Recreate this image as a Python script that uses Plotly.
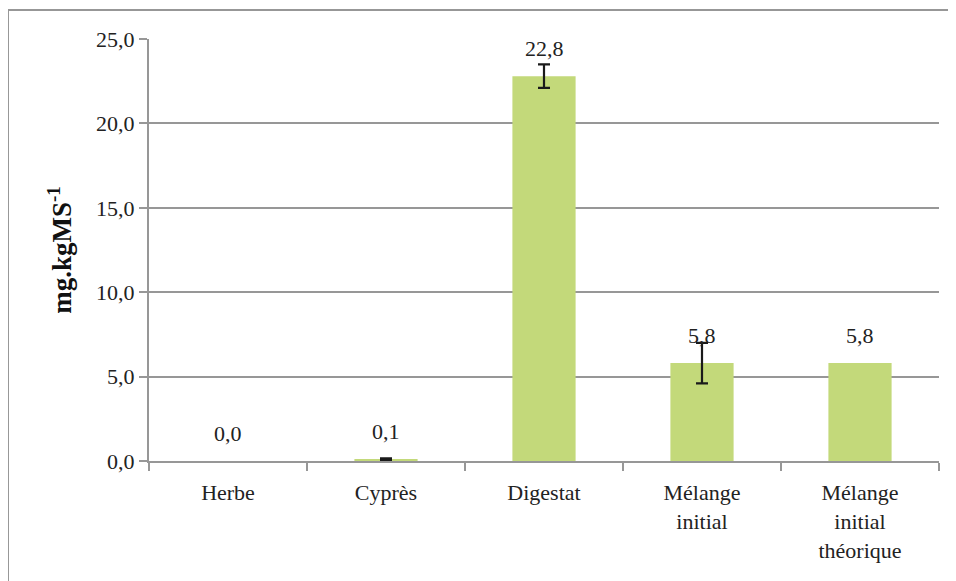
import plotly.graph_objects as go

categories = ["Herbe", "Cyprès", "Digestat", "Mélange<br>initial", "Mélange<br>initial<br>théorique"]
values = [0.0, 0.1, 22.8, 5.8, 5.8]
errors = [0.0, 0.05, 0.7, 1.2, 0.0]
has_error = [False, True, True, True, False]
labels = ["0,0", "0,1", "22,8", "5,8", "5,8"]
y_ticks = [0, 5, 10, 15, 20, 25]
y_ticktext = ["0,0", "5,0", "10,0", "15,0", "20,0", "25,0"]

FONT = "Times New Roman, Liberation Serif, serif"
GRID = "#979797"
TXT = "#222222"
BAR = "#C3D97A"

idx_e = [i for i, h in enumerate(has_error) if h]
idx_n = [i for i, h in enumerate(has_error) if not h]

fig = go.Figure()
fig.add_trace(go.Bar(
    x=[categories[i] for i in idx_e], y=[values[i] for i in idx_e],
    marker=dict(color=BAR, line=dict(width=0)), width=0.4,
    error_y=dict(type="data", array=[errors[i] for i in idx_e], visible=True,
                 color="#1a1a1a", thickness=2.2, width=6),
    hoverinfo="skip",
))
fig.add_trace(go.Bar(
    x=[categories[i] for i in idx_n], y=[values[i] for i in idx_n],
    marker=dict(color=BAR, line=dict(width=0)), width=0.4,
    hoverinfo="skip",
))

for c, v, t in zip(categories, values, labels):
    fig.add_annotation(x=c, y=v, text=t, showarrow=False, yanchor="bottom", yshift=13,
                       font=dict(family=FONT, size=22, color=TXT))

# y-axis title
fig.add_annotation(xref="paper", yref="paper", x=-0.113, y=0.5, text="<b>mg.kgMS<sup>-1</sup></b>",
                   textangle=-90, showarrow=False, xanchor="center", yanchor="middle",
                   font=dict(family=FONT, size=27, color="#111111"))

# outer frame
fig.add_shape(type="line", xref="paper", yref="paper", x0=-0.1785, x1=1.05, y0=1.0687, y1=1.0687,
              line=dict(color=GRID, width=2))
fig.add_shape(type="line", xref="paper", yref="paper", x0=-0.1785, x1=-0.1785, y0=1.0687, y1=-0.3,
              line=dict(color=GRID, width=2))

fig.update_layout(
    width=948, height=573,
    margin=dict(l=141, r=17, t=31, b=120),
    paper_bgcolor="white", plot_bgcolor="white",
    showlegend=False, barmode="overlay",
    font=dict(family=FONT, size=22, color=TXT),
)
fig.update_xaxes(
    type="category", categoryorder="array", categoryarray=categories,
    tickson="boundaries", ticks="outside", ticklen=8, tickcolor=GRID, tickwidth=2,
    ticklabelstandoff=11,
    showline=True, linecolor=GRID, linewidth=2, showgrid=False,
    tickfont=dict(family=FONT, size=22, color=TXT),
)
fig.update_yaxes(
    range=[0, 25], tickvals=y_ticks, ticktext=y_ticktext,
    ticks="outside", ticklen=8, tickcolor=GRID, tickwidth=2,
    showline=True, linecolor=GRID, linewidth=2,
    showgrid=True, gridcolor=GRID, gridwidth=2, zeroline=False,
    tickfont=dict(family=FONT, size=22, color=TXT),
)

fig.write_html("out.html")
